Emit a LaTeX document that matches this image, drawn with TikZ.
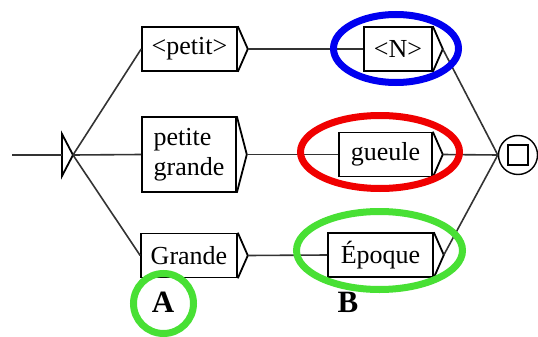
\documentclass[tikz,border=0pt]{standalone}
\usepackage{fontspec}
\setmainfont{Liberation Serif}
\newfontfamily\graphfont{Liberation Serif}
\usepackage{xcolor}
\usepackage{tikz}
\usetikzlibrary{calc}
\definecolor{markblue}{RGB}{0,0,240}
\definecolor{markred}{RGB}{240,0,0}
\definecolor{markgreen}{RGB}{72,224,52}
\tikzset{
    box/.style={draw=black, line width=1.6pt, fill=white, inner sep=0pt, align=center,
                font=\graphfont\fontsize{26}{30}\selectfont, minimum height=44pt},
    edge/.style={line width=1.6pt, black!80},
    frame/.style={line width=1.8pt, black},
    ring/.style={line width=7pt},
    tag/.style={font=\graphfont\fontsize{31}{31}\selectfont\bfseries},
}

\begin{document}
\begin{tikzpicture}[x=1pt, y=-1pt]
    \useasboundingbox (0,0) rectangle (538,337);
    % boxes of the graph
    \node[box, minimum width=95pt] (petit) at (189.5,49) {<petit>};
    \node[box, minimum width=94pt, minimum height=75pt, align=left] (pg) at (189,154.5) {petite\\grande};
    \node[box, minimum width=96pt] (grande) at (189,255.5) {Grande};
    \node[box, minimum width=68pt] (N) at (398,49) {<N>};
    \node[box, minimum width=93pt] (gueule) at (385.5,154.5) {gueule};
    \node[box, minimum width=105pt] (epoque) at (380.5,255) {Époque};
    % output arrow of every box
    \foreach \n in {petit,pg,grande,N,gueule,epoque}
        \draw[frame] (\n.north east) -- ($(\n.east)+(10,0)$) coordinate (\n-o) -- (\n.south east);
    % initial and final states
    \coordinate (start) at (12,155);
    \coordinate (init) at (73,155);
    \draw[frame] (init) -- ++(-11,-21) -- ++(0,42) -- cycle;
    \node[circle, draw, line width=1.4pt, minimum size=39pt, inner sep=0pt] (final) at (518,155) {};
    \node[draw, line width=1.8pt, minimum size=20pt, inner sep=0pt] (stop) at (final) {};
    % transitions
    \draw[edge] (start) -- ($(init)+(-11,0)$);
    \draw[edge] (init) -- (petit.west);
    \draw[edge] (init) -- (pg.west);
    \draw[edge] (init) -- (grande.west);
    \draw[edge] (petit-o) -- (N.west);
    \draw[edge] (pg-o) -- (gueule.west);
    \draw[edge] (grande-o) -- (epoque.west);
    \draw[edge] (N-o) -- (final.west);
    \draw[edge] (gueule-o) -- (final.west);
    \draw[edge] (epoque-o) -- (final.west);
    % highlighted parts
    \draw[ring, markblue] (396,48.5) ellipse [x radius=62.5, y radius=34];
    \draw[ring, markred] (380,152) ellipse [x radius=79.5, y radius=36.5];
    \draw[ring, markgreen] (379.5,250.5) ellipse [x radius=83, y radius=39];
    \draw[ring, markgreen] (163.5,303.5) circle [radius=30];
    \node[tag] (A) at (163,302) {A};
    \node[tag] (B) at (348,302) {B};
\end{tikzpicture}
\end{document}
